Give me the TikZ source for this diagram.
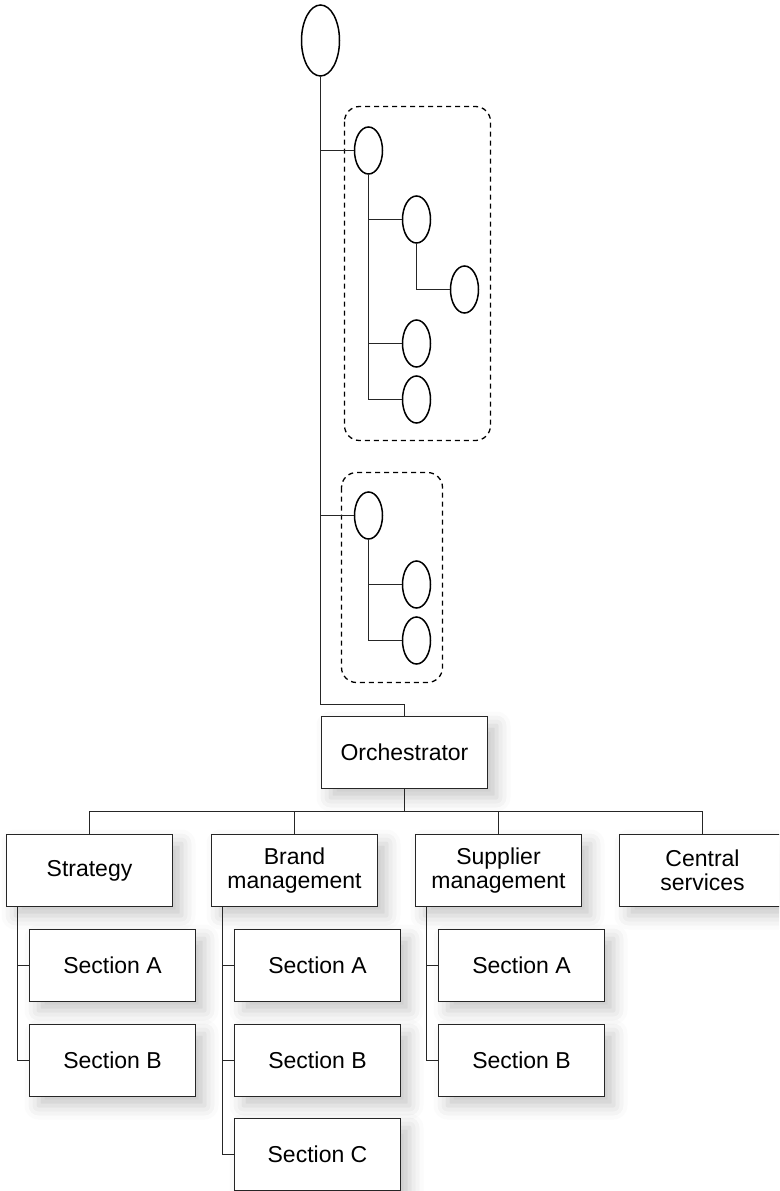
\documentclass[tikz,border=0pt]{standalone}
\usepackage{fontspec}
\setmainfont{Liberation Sans}
\usetikzlibrary{shapes.geometric,shadows.blur}

\tikzset{
  unit/.style={draw=black!85, line width=1.7pt, fill=white, rectangle, align=center,
    minimum width=166, minimum height=72, inner sep=0pt,
    font=\fontsize{23}{24.5}\selectfont,
    blur shadow={shadow xshift=9pt, shadow yshift=-9pt, shadow blur radius=14pt, shadow opacity=22}},
  bubble/.style={draw, line width=1.5pt, ellipse, inner sep=0pt,
    minimum width=28, minimum height=47},
  link/.style={draw=black!85, line width=1.6pt, line join=miter},
  group/.style={draw, line width=1.3pt, dash pattern=on 5pt off 4pt, rounded corners=15pt}
}

\begin{document}
\begin{tikzpicture}[x=1pt, y=-1pt]
\useasboundingbox (0,0) rectangle (779,1191);
\clip (0,0) rectangle (779,1191);

% dashed group frames
\draw[group] (344.5,106.5) rectangle (490.5,440.5);
\draw[group] (341.5,472.5) rectangle (442.5,682.5);

% ellipse tree
\node[bubble, minimum width=38, minimum height=71] (root) at (320.5,40.5) {};
\node[bubble] (a1) at (368.5,150.5) {};
\node[bubble] (b1) at (416.5,219.5) {};
\node[bubble] (c1) at (464.5,289.5) {};
\node[bubble] (b2) at (416.5,343.5) {};
\node[bubble] (b3) at (416.5,399.5) {};
\node[bubble] (d1) at (368.5,515.5) {};
\node[bubble] (e1) at (416.5,584.5) {};
\node[bubble] (e2) at (416.5,640.5) {};

% boxes
\node[unit] (orch) at (404.5,752.5) {Orchestrator};
\node[unit] (strat) at (89.5,870.5) {Strategy};
\node[unit] (brand) at (294.5,870.5) {Brand\\management};
\node[unit] (supp) at (498.5,870.5) {Supplier\\management};
\node[unit] (cent) at (702.5,870.5) {Central\\services};

\node[unit] (sa) at (112.5,965.5) {Section A};
\node[unit] (sb) at (112.5,1060.5) {Section B};
\node[unit] (ba) at (317.5,965.5) {Section A};
\node[unit] (bb) at (317.5,1060.5) {Section B};
\node[unit] (bc) at (317.5,1154.5) {Section C};
\node[unit] (pa) at (521.5,965.5) {Section A};
\node[unit] (pb) at (521.5,1060.5) {Section B};

% connectors of the ellipse tree
\draw[link] (root.south) |- ([yshift=11pt]orch.north) -- (orch.north);
\draw[link] (root.south |- a1.west) -- (a1.west);
\draw[link] (root.south |- d1.west) -- (d1.west);
\draw[link] (a1.south) |- (b3.west);
\draw[link] (a1.south |- b1.west) -- (b1.west);
\draw[link] (a1.south |- b2.west) -- (b2.west);
\draw[link] (b1.south) |- (c1.west);
\draw[link] (d1.south) |- (e2.west);
\draw[link] (d1.south |- e1.west) -- (e1.west);

% connectors of the box tree
\coordinate (bus) at (404.5,811.5);
\draw[link] (orch.south) -- (bus);
\draw[link] (strat.north) |- (bus) -| (cent.north);
\draw[link] (brand.north) -- (brand.north |- bus);
\draw[link] (supp.north) -- (supp.north |- bus);

\draw[link] ([xshift=12pt]strat.south west) |- (sb.west);
\draw[link] ([xshift=12pt]strat.south west |- sa.west) -- (sa.west);
\draw[link] ([xshift=12pt]brand.south west) |- (bc.west);
\draw[link] ([xshift=12pt]brand.south west |- ba.west) -- (ba.west);
\draw[link] ([xshift=12pt]brand.south west |- bb.west) -- (bb.west);
\draw[link] ([xshift=12pt]supp.south west) |- (pb.west);
\draw[link] ([xshift=12pt]supp.south west |- pa.west) -- (pa.west);
\end{tikzpicture}
\end{document}
